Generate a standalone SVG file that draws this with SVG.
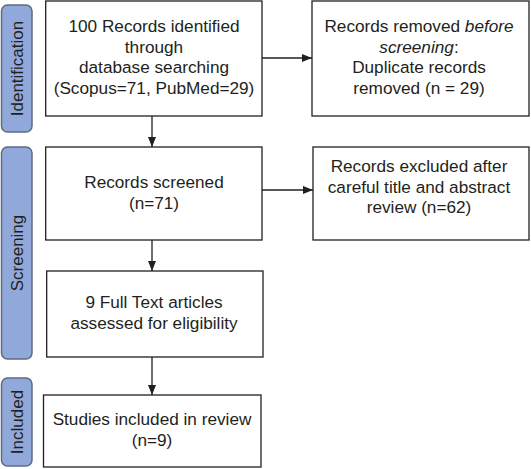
<svg xmlns="http://www.w3.org/2000/svg" width="531" height="469" viewBox="0 0 531 469">
<style>
.box{fill:#fff;stroke:#231f20;stroke-width:1.3}
.side{fill:#91a9da;stroke:#5f6b80;stroke-width:1.5}
.t{font-family:"Liberation Sans",Arial,sans-serif;font-size:17.2px;fill:#231f20;text-anchor:middle}
.s{font-family:"Liberation Sans",Arial,sans-serif;font-size:17px;fill:#231f20;text-anchor:middle}
.c{stroke:#231f20;stroke-width:1.3;fill:none;marker-end:url(#ah)}
</style>
<defs>
<marker id="ah" viewBox="0 0 10 10" refX="10" refY="5" markerWidth="10" markerHeight="10" markerUnits="userSpaceOnUse" orient="auto">
<path d="M0,1 L10,5 L0,9 z" fill="#231f20"/>
</marker>
</defs>
<g id="phase-identification">
<rect class="side" x="1.5" y="5" width="30.5" height="127" rx="6"/>
<text class="s" transform="translate(23,68.5) rotate(-90)">Identification</text>
</g>
<g id="phase-screening">
<rect class="side" x="1.5" y="147" width="30.5" height="212" rx="6"/>
<text class="s" transform="translate(23,253) rotate(-90)">Screening</text>
</g>
<g id="phase-included">
<rect class="side" x="1.5" y="378" width="30.5" height="88" rx="6"/>
<text class="s" transform="translate(23,422) rotate(-90)">Included</text>
</g>
<g id="connectors">
<path class="c" d="M262,58 H312"/>
<path class="c" d="M152,116 V147"/>
<path class="c" d="M262,190 H313"/>
<path class="c" d="M152,240 V271"/>
<path class="c" d="M152,357 V395"/>
</g>
<g id="n1">
<rect class="box" x="45.7" y="1" width="216.3" height="115"/>
<text class="t" x="154" y="32">100 Records identified</text>
<text class="t" x="154" y="52.5">through</text>
<text class="t" x="154" y="73">database searching</text>
<text class="t" x="154" y="93.5">(Scopus=71, PubMed=29)</text>
</g>
<g id="n2">
<rect class="box" x="312" y="1" width="217" height="115"/>
<text class="t" x="419" y="32">Records removed <tspan font-style="italic">before</tspan></text>
<text class="t" x="419" y="52.5"><tspan font-style="italic">screening</tspan>:</text>
<text class="t" x="419" y="73">Duplicate records</text>
<text class="t" x="419" y="93.5">removed (n = 29)</text>
</g>
<g id="n3">
<rect class="box" x="45.7" y="147" width="216.3" height="93"/>
<text class="t" x="154" y="188">Records screened</text>
<text class="t" x="154" y="208.5">(n=71)</text>
</g>
<g id="n4">
<rect class="box" x="313" y="147" width="216" height="93"/>
<text class="t" x="419" y="172">Records excluded after</text>
<text class="t" x="419" y="192.5">careful title and abstract</text>
<text class="t" x="419" y="213">review (n=62)</text>
</g>
<g id="n5">
<rect class="box" x="46.7" y="271" width="216.3" height="86"/>
<text class="t" x="154" y="308">9 Full Text articles</text>
<text class="t" x="154" y="328.5">assessed for eligibility</text>
</g>
<g id="n6">
<rect class="box" x="43.5" y="395" width="217.5" height="72"/>
<text class="t" x="152" y="425">Studies included in review</text>
<text class="t" x="152" y="445.5">(n=9)</text>
</g>
</svg>
